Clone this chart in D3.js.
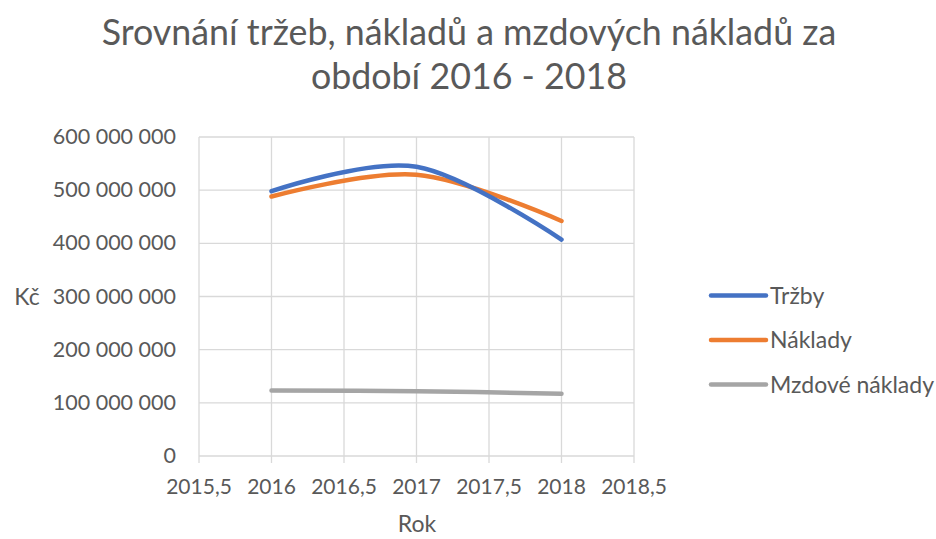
<!DOCTYPE html>
<html><head><meta charset="utf-8">
<script src="https://cdn.jsdelivr.net/npm/d3@7"></script>
<style>body{margin:0;background:#fff;} text{font-family:Lato,"Open Sans",sans-serif;}</style>
</head><body>
<svg id="c" width="936" height="539"></svg>
<script>
const years = [2016, 2017, 2018];
const trzby = [498000000, 544000000, 407000000];
const naklady = [488000000, 529000000, 442000000];
const mzdove = [123000000, 122000000, 117000000];
const seriesNames = ["Tržby", "Náklady", "Mzdové náklady"];
const colors = ["#4472C4", "#ED7D31", "#A5A5A5"];
const xTicks = [2015.5, 2016, 2016.5, 2017, 2017.5, 2018, 2018.5];
const yTicks = [0, 100000000, 200000000, 300000000, 400000000, 500000000, 600000000];

const svg = d3.select("#c");
const x = d3.scaleLinear().domain([2015.5, 2018.5]).range([199, 634]);
const y = d3.scaleLinear().domain([0, 600000000]).range([456, 137]);

// grid
svg.append("g").selectAll("line").data(yTicks).join("line")
  .attr("x1", 199).attr("x2", 634).attr("y1", d => y(d)).attr("y2", d => y(d))
  .attr("stroke", "#d9d9d9").attr("stroke-width", 1.3);
svg.append("g").selectAll("line").data(xTicks).join("line")
  .attr("x1", d => x(d)).attr("x2", d => x(d)).attr("y1", 137).attr("y2", 463)
  .attr("stroke", "#d9d9d9").attr("stroke-width", 1.3);

const fmt = v => v === 0 ? "0" : d3.format(",")(v).replace(/,/g, " ");
const fmtX = v => String(v).replace(".", ",");

svg.append("g").selectAll("text").data(yTicks).join("text")
  .attr("x", 176).attr("y", d => y(d) + 7).attr("text-anchor", "end")
  .attr("font-size", 21.5).attr("fill", "#595959").text(fmt);
svg.append("g").selectAll("text").data(xTicks).join("text")
  .attr("x", d => x(d)).attr("y", 494).attr("text-anchor", "middle")
  .attr("font-size", 21).attr("fill", "#595959").text(fmtX);

svg.append("text").attr("x", 27).attr("y", 305).attr("text-anchor", "middle")
  .attr("font-size", 23).attr("fill", "#595959").text("Kč");
svg.append("text").attr("x", 417).attr("y", 532).attr("text-anchor", "middle")
  .attr("font-size", 23).attr("fill", "#595959").text("Rok");

svg.append("text").attr("x", 469).attr("y", 45).attr("text-anchor", "middle")
  .attr("font-size", 35.8).attr("fill", "#595959").text("Srovnání tržeb, nákladů a mzdových nákladů za");
svg.append("text").attr("x", 469).attr("y", 89).attr("text-anchor", "middle")
  .attr("font-size", 35.8).attr("fill", "#595959").text("období 2016 - 2018");

const data = [trzby, naklady, mzdove];
const line = d3.line().x((d, i) => x(years[i])).y(d => y(d)).curve(d3.curveCatmullRom.alpha(0));
svg.append("g").selectAll("path").data([2, 1, 0]).join("path")
  .attr("d", i => line(data[i])).attr("fill", "none")
  .attr("stroke", i => colors[i]).attr("stroke-width", 4.5).attr("stroke-linecap", "round");

const lg = svg.append("g").selectAll("g").data(seriesNames).join("g")
  .attr("transform", (d, i) => `translate(0,${295.5 + i * 44.5})`);
lg.append("line").attr("x1", 711).attr("x2", 766).attr("y1", 0).attr("y2", 0)
  .attr("stroke", (d, i) => colors[i]).attr("stroke-width", 4.5).attr("stroke-linecap", "round");
lg.append("text").attr("x", 770).attr("y", 8).attr("font-size", 23).attr("fill", "#595959").text(d => d);
</script>
</body></html>
